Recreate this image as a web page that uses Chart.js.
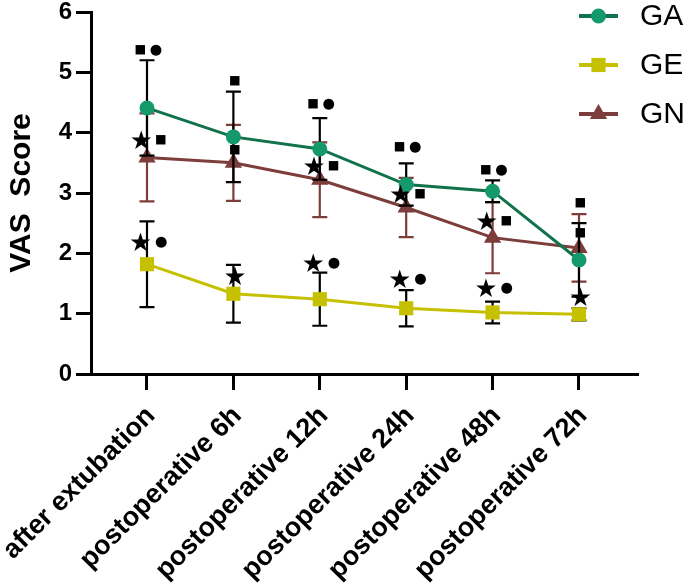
<!DOCTYPE html>
<html><head><meta charset="utf-8">
<script src="https://cdn.jsdelivr.net/npm/chart.js@4.4.0/dist/chart.umd.min.js"></script>
<style>html,body{margin:0;padding:0;background:#fff;overflow:hidden}canvas{display:block}</style>
</head><body>
<canvas id="c" width="685" height="587"></canvas>
<script>
// ---- data ----
const categories = ['after extubation','postoperative 6h','postoperative 12h','postoperative 24h','postoperative 48h','postoperative 72h'];
const yTicks = [0,1,2,3,4,5,6];
const seriesNames = ['GA','GE','GN'];
const gaMean = [4.41, 3.93, 3.73, 3.14, 3.03, 1.89];
const gaSD   = [0.79, 0.75, 0.51, 0.35, 0.18, 0.61];
const geMean = [1.82, 1.33, 1.24, 1.09, 1.02, 0.99];
const geSD   = [0.71, 0.48, 0.44, 0.30, 0.18, 0.10];
const gnMean = [3.59, 3.50, 3.22, 2.76, 2.26, 2.09];
const gnSD   = [0.73, 0.63, 0.62, 0.49, 0.59, 0.56];
// significance markers: category index, value, symbols
const annoCat   = [0,0,0, 1,1,1, 2,2,2, 3,3,3, 4,4,4, 5,5,5];
const annoValue = [5.37,3.88,2.19, 4.86,3.71,1.62, 4.48,3.45,1.84, 3.76,2.98,1.57, 3.38,2.54,1.43, 2.84,2.34,1.28];
const annoText  = ['■●','★■','★●', '■','■','★', '■●','★■','★●', '■●','★■','★●', '■●','★■','★●', '■','■','★'];

// ---- styles ----
const FONT = '"Liberation Sans", Arial, Helvetica, sans-serif';
const styles = {
  GA: {line:'#11724c', point:'#14996b', err:'#000000', shape:'circle', r:7.5},
  GE: {line:'#c5c000', point:'#c5c000', err:'#000000', shape:'rect', r:10},
  GN: {line:'#7d3d3a', point:'#7d3d3a', err:'#7d3d3a', shape:'triangle', r:10}
};
const means = {GA:gaMean, GE:geMean, GN:gnMean};
const sds = {GA:gaSD, GE:geSD, GN:gnSD};

const datasets = seriesNames.map(n => ({
  label: n,
  data: means[n].map((v,i)=>({x:i, y:v})),
  sd: sds[n],
  errColor: styles[n].err,
  borderColor: styles[n].line,
  backgroundColor: styles[n].point,
  pointBackgroundColor: styles[n].point,
  pointBorderColor: styles[n].point,
  pointBorderWidth: 0,
  pointStyle: styles[n].shape,
  pointRadius: styles[n].r,
  borderWidth: 3,
  tension: 0,
  clip: false
}));

const errorBars = {
  id: 'errorBars',
  beforeDatasetDraw(chart, args) {
    const ds = chart.data.datasets[args.index];
    if (!ds.sd) return;
    const {ctx} = chart; const x = chart.scales.x, y = chart.scales.y;
    ctx.save();
    ctx.strokeStyle = ds.errColor; ctx.lineWidth = 2.2; ctx.lineCap = 'butt';
    ds.data.forEach((p,i) => {
      const px = x.getPixelForValue(p.x);
      const t = y.getPixelForValue(p.y + ds.sd[i]);
      const b = y.getPixelForValue(p.y - ds.sd[i]);
      const w = 7.5;
      ctx.beginPath();
      ctx.moveTo(px, t); ctx.lineTo(px, b);
      ctx.moveTo(px - w, t); ctx.lineTo(px + w, t);
      ctx.moveTo(px - w, b); ctx.lineTo(px + w, b);
      ctx.stroke();
    });
    ctx.restore();
  }
};

const glyphInk = {'★':20, '■':9.5, '●':11};
const markers = {
  id: 'markers',
  afterDatasetsDraw(chart) {
    const {ctx} = chart; const x = chart.scales.x, y = chart.scales.y;
    ctx.save();
    ctx.fillStyle = '#000';
    const gap = 5;
    const info = {};
    Object.keys(glyphInk).forEach(g => {
      ctx.font = '100px "DejaVu Sans"';
      const m = ctx.measureText(g);
      const w = m.actualBoundingBoxLeft + m.actualBoundingBoxRight;
      const size = 100 * glyphInk[g] / w;
      ctx.font = size + 'px "DejaVu Sans"';
      const m2 = ctx.measureText(g);
      info[g] = {size, m: m2, w: glyphInk[g]};
    });
    annoText.forEach((txt, k) => {
      const gl = Array.from(txt);
      const total = gl.reduce((s,g)=>s+info[g].w,0) + gap*(gl.length-1);
      const cx = x.getPixelForValue(annoCat[k]) + 1.5;
      const cy = y.getPixelForValue(annoValue[k]);
      let left = cx - total/2;
      gl.forEach(g => {
        const it = info[g];
        ctx.font = it.size + 'px "DejaVu Sans"';
        ctx.textAlign = 'left'; ctx.textBaseline = 'alphabetic';
        const m = it.m;
        const inkCx = (m.actualBoundingBoxRight - m.actualBoundingBoxLeft)/2;
        const inkCy = (m.actualBoundingBoxDescent - m.actualBoundingBoxAscent)/2;
        const gx = left + it.w/2;
        ctx.fillText(g, gx - inkCx, cy - inkCy);
        left += it.w + gap;
      });
    });
    ctx.restore();
  }
};

const legendPlugin = {
  id: 'customLegend',
  afterDraw(chart) {
    const {ctx} = chart;
    ctx.save();
    const rows = [16, 65, 114];
    chart.data.datasets.forEach((ds, i) => {
      const yy = rows[i];
      ctx.strokeStyle = ds.borderColor; ctx.lineWidth = 4;
      ctx.beginPath(); ctx.moveTo(579, yy); ctx.lineTo(618, yy); ctx.stroke();
      ctx.fillStyle = ds.pointBackgroundColor;
      ctx.strokeStyle = ds.pointBackgroundColor;
      Chart.helpers.drawPoint(ctx, {pointStyle: ds.pointStyle, radius: ds.pointRadius, borderWidth: 0, rotation: 0}, 598.5, yy);
      ctx.fillStyle = '#000';
      ctx.font = '30px ' + FONT;
      ctx.textAlign = 'left'; ctx.textBaseline = 'middle';
      ctx.fillText(ds.label, 640, yy + 1);
    });
    ctx.restore();
  }
};

new Chart(document.getElementById('c'), {
  type: 'line',
  data: { datasets },
  options: {
    responsive: false,
    animation: false,
    layout: { padding: {top: 12, right: 47, left: 0, bottom: 0} },
    plugins: { legend: {display: false}, tooltip: {enabled: false} },
    scales: {
      x: {
        type: 'linear',
        min: -0.648, max: 5.683,
        afterBuildTicks: s => { s.ticks = categories.map((_, i) => ({value: i})); },
        afterFit: s => { s.height = 213; s.paddingLeft = 0; s.paddingRight = 0; },
        grid: { drawOnChartArea: false, drawTicks: true, tickLength: 16, tickWidth: 3, tickColor: '#000' },
        border: { display: true, color: '#000', width: 3 },
        ticks: {
          autoSkip: false, minRotation: 45, maxRotation: 45, padding: 10, labelOffset: 4,
          color: '#000', font: {family: FONT, size: 27, weight: 'bold'},
          callback: v => categories[v] ?? ''
        }
      },
      y: {
        min: 0, max: 6,
        afterBuildTicks: s => { s.ticks = yTicks.map(v => ({value: v})); },
        afterFit: s => { s.width = 91; s.paddingTop = 0; s.paddingBottom = 0; },
        grid: { drawOnChartArea: false, drawTicks: true, tickLength: 15, tickWidth: 3, tickColor: '#000' },
        border: { display: true, color: '#000', width: 3 },
        ticks: { padding: 4, color: '#000', font: {family: FONT, size: 24, weight: 'bold'} },
        title: { display: true, text: 'VAS  Score', color: '#000', font: {family: FONT, size: 30, weight: 'bold'}, padding: {top: 4, bottom: 0} }
      }
    }
  },
  plugins: [errorBars, markers, legendPlugin]
});
</script>
</body></html>
